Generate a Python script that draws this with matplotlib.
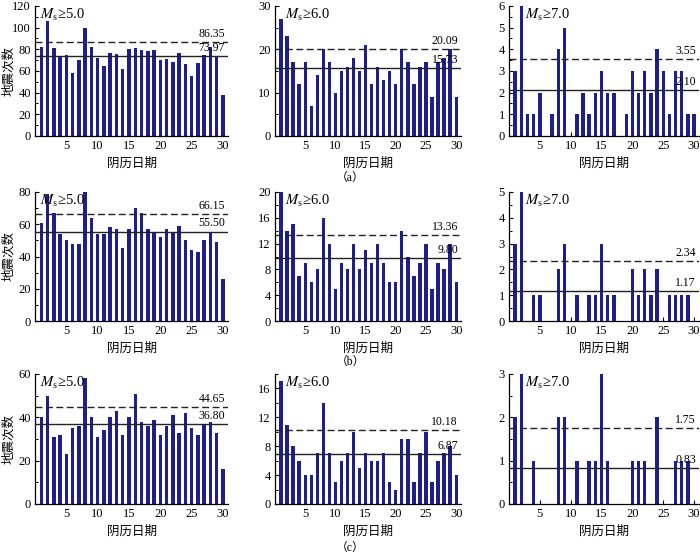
import matplotlib
matplotlib.use('Agg')
import matplotlib.pyplot as plt
from matplotlib.ticker import MultipleLocator

plt.rcParams['font.family'] = ['Liberation Serif', 'Noto Sans CJK SC', 'DejaVu Sans']
plt.rcParams['mathtext.fontset'] = 'stix'

days = list(range(1, 31))

# Row (a)
a_m5 = [82, 106, 81, 74, 75, 58, 70, 100, 82, 72, 65, 77, 76, 62, 80,
        81, 79, 78, 79, 70, 71, 68, 77, 66, 55, 67, 75, 82, 73, 38]
a_m6 = [27, 23, 17, 12, 17, 7, 14, 20, 17, 10, 15, 16, 18, 15, 21,
        12, 16, 13, 15, 12, 20, 17, 12, 16, 17, 9, 17, 18, 20, 9]
a_m7 = [3, 6, 1, 1, 2, 0, 1, 4, 5, 0, 1, 2, 1, 2, 3,
        2, 2, 0, 1, 3, 2, 3, 2, 4, 3, 1, 3, 3, 1, 1]
# Row (b)
b_m5 = [61, 79, 67, 54, 50, 48, 48, 80, 64, 54, 54, 58, 57, 45, 57,
        70, 67, 57, 55, 52, 57, 55, 59, 50, 44, 43, 50, 55, 49, 26]
b_m6 = [20, 14, 15, 7, 9, 6, 8, 16, 12, 5, 9, 8, 12, 8, 11,
        9, 12, 9, 6, 6, 14, 10, 7, 9, 12, 5, 9, 8, 12, 6]
b_m7 = [3, 5, 0, 1, 1, 0, 0, 2, 3, 0, 1, 0, 1, 1, 3,
        1, 1, 0, 0, 2, 1, 2, 1, 2, 0, 1, 1, 1, 1, 0]
# Row (c)
c_m5 = [40, 50, 31, 32, 23, 35, 36, 58, 40, 31, 34, 40, 43, 32, 40,
        51, 38, 36, 39, 32, 36, 41, 33, 42, 35, 32, 37, 38, 33, 16]
c_m6 = [17, 11, 8, 6, 4, 4, 7, 14, 7, 3, 6, 7, 10, 5, 7,
        6, 6, 7, 3, 2, 9, 9, 3, 7, 10, 3, 6, 7, 8, 4]
c_m7 = [2, 3, 0, 1, 0, 0, 0, 2, 2, 0, 1, 0, 1, 1, 3,
        1, 0, 0, 0, 1, 1, 1, 0, 2, 0, 0, 1, 1, 1, 0]

series = [[a_m5, a_m6, a_m7], [b_m5, b_m6, b_m7], [c_m5, c_m6, c_m7]]
means = [[73.97, 15.73, 2.10], [55.50, 9.80, 1.17], [36.80, 6.87, 0.83]]
thresholds = [[86.35, 20.09, 3.55], [66.15, 13.36, 2.34], [44.65, 10.18, 1.75]]
mag_labels = ['5.0', '6.0', '7.0']
row_labels = ['（a）', '（b）', '（c）']
xlabel = '阴历日期'
ylabel = '地震次数'

# style / layout
ylims = [[120, 30, 6], [80, 20, 5], [60, 18, 3]]
ymajor = [[20, 10, 1], [20, 4, 1], [20, 4, 1]]
yminor = [[10, 5, 0.5], [10, 2, 0.5], [10, 2, 0.5]]
W, H = 700, 555
col_px = [(35, 228), (275, 461), (509, 699)]
row_px = [(6, 136), (192, 321), (374, 504)]
row_lab_y = [178, 362, 548]
ms_x = [0.85, 1.7, 2.65]
bar_color = '#1e1e8c'
line_color = '#222222'

fig = plt.figure(figsize=(W / 100, H / 100), dpi=100)

for r in range(3):
    for c in range(3):
        l, rr = col_px[c]
        t, b = row_px[r]
        ax = fig.add_axes([l / W, 1 - b / H, (rr - l) / W, (b - t) / H])
        ax.bar(days, series[r][c], width=0.55, color=bar_color, zorder=2)
        ax.set_xlim(0, 30.8)
        ax.set_ylim(0, ylims[r][c])
        ax.axhline(means[r][c], color=line_color, lw=1.0, zorder=3)
        ax.axhline(thresholds[r][c], color=line_color, lw=1.0,
                   linestyle=(0, (5, 2.5)), zorder=3)
        ax.annotate(f'{thresholds[r][c]:.2f}', xy=(30.3, thresholds[r][c]),
                    xytext=(0, 1.5), textcoords='offset points',
                    ha='right', va='bottom', fontsize=8.5, zorder=4)
        ax.annotate(f'{means[r][c]:.2f}', xy=(30.3, means[r][c]),
                    xytext=(0, 1.5), textcoords='offset points',
                    ha='right', va='bottom', fontsize=8.5, zorder=4)
        ax.text(ms_x[c], ylims[r][c] * 0.995, r'$M_{\rm s}$≥' + mag_labels[c],
                ha='left', va='top', fontsize=10.5, zorder=4)
        for s in ['top', 'right']:
            ax.spines[s].set_visible(False)
        for s in ['left', 'bottom']:
            ax.spines[s].set_linewidth(0.9)
        ax.yaxis.set_major_locator(MultipleLocator(ymajor[r][c]))
        ax.yaxis.set_minor_locator(MultipleLocator(yminor[r][c]))
        ax.set_xticks([5, 10, 15, 20, 25, 30])
        ax.tick_params(axis='both', which='major', direction='in', length=3,
                       width=0.8, labelsize=9, pad=3)
        ax.tick_params(axis='y', which='minor', direction='in', length=2, width=0.7)
        ax.set_xlabel(xlabel, fontsize=9, labelpad=4)
        if c == 0:
            fig.text(9 / W, 1 - ((t + b) / 2) / H, ylabel, rotation=90,
                     ha='center', va='center', fontsize=9)
    fig.text(350 / W, 1 - row_lab_y[r] / H, row_labels[r], ha='center',
             va='center', fontsize=8.5)

fig.savefig('out.png', dpi=100)
